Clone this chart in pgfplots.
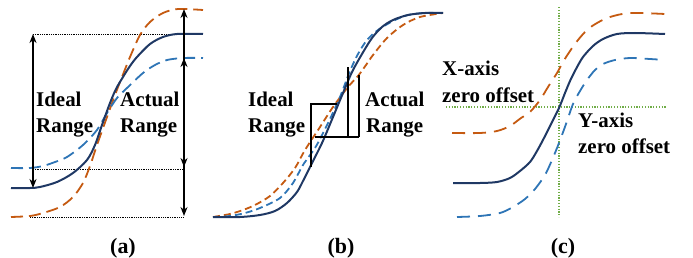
\documentclass[border=0pt]{standalone}
\usepackage{pgfplots}
\pgfplotsset{compat=1.18}
\usepackage{fontspec}
\setmainfont{Liberation Serif}
\usetikzlibrary{arrows.meta}
\definecolor{navy}{HTML}{1F3864}
\definecolor{orng}{HTML}{C55A11}
\definecolor{blu}{HTML}{2E75B6}
\definecolor{grn}{HTML}{70AD47}
\tikzset{lbl/.style={anchor=base west, inner sep=0pt, font=\fontsize{21}{26}\bfseries\selectfont},
  pcapt/.style={anchor=base, inner sep=0pt, font=\fontsize{22}{26}\bfseries\selectfont}}
\begin{document}
\begin{tikzpicture}
\begin{axis}[width=693bp,height=258bp,scale only axis,
  xmin=0,xmax=693,ymin=0,ymax=258,y dir=reverse,hide axis,clip=false]
\addplot[draw=none] coordinates {(0,0)(693,258)};
% ---------- panel (a)
\addplot[black, line width=0.8bp, densely dotted] coordinates {(33,34)(203,34)};
\addplot[black, line width=0.8bp, densely dotted] coordinates {(33,169)(184,169)};
\addplot[black, line width=0.8bp, densely dotted] coordinates {(30,217)(184,217)};
\addplot[orng, line width=1.8bp, dash pattern=on 12bp off 6bp, smooth] coordinates {(11,217)(30,216)(43,213)(60,207)(73,197)(83,183)(90,166)(97,145)(107,117)(115,95)(122,77)(130,57)(140,35)(150,22)(163,13)(178,9)(203,10)};
\addplot[blu, line width=1.8bp, dash pattern=on 12bp off 6bp, smooth] coordinates {(11,168)(30,168)(43,166)(55,162)(67,157)(83,145)(97,130)(107,113)(117,98)(127,88)(143,73)(155,65)(167,60)(183,58)(203,58)};
\addplot[navy, line width=2bp, smooth] coordinates {(11,188)(30,188)(40,187)(57,182)(73,173)(87,160)(95,145)(102,125)(110,103)(116,89)(123,77)(130,66)(137,57)(150,44)(163,37)(177,34)(203,34)};
\addplot[black, line width=2.2bp, {Stealth[length=9bp,width=7bp]}-{Stealth[length=9bp,width=7bp]}] coordinates {(33,34)(33,188)};
\addplot[black, line width=2.2bp, {Stealth[length=9bp,width=7bp]}-{Stealth[length=9bp,width=7bp]}] coordinates {(184,9)(184,216)};
\addplot[black, line width=2.2bp, {Stealth[length=9bp,width=7bp]}-{Stealth[length=9bp,width=7bp]}] coordinates {(184,58)(184,167)};
% ---------- panel (b)
\addplot[orng, line width=1.8bp, dash pattern=on 7bp off 4bp, smooth] coordinates {(213,217)(230,214)(243,210)(255,205)(270,196)(283,183)(295,168)(305,150)(320,127)(333,107)(348,87)(358,76)(366,65)(373,55)(387,38)(403,25)(420,17)(443,13)};
\addplot[blu, line width=1.8bp, dash pattern=on 7bp off 4bp, smooth] coordinates {(213,217)(230,216)(245,213)(260,208)(280,198)(293,183)(303,165)(315,148)(322,135)(330,119)(340,97)(350,71)(358,54)(367,40)(378,30)(393,21)(408,15)(425,13)(443,13)};
\addplot[navy, line width=2bp, smooth] coordinates {(213,217)(240,217)(260,215)(275,211)(287,203)(297,192)(303,181)(310,167)(322,143)(333,117)(343,93)(352,72)(362,54)(372,38)(382,27)(393,20)(408,15)(425,13)(443,13)};
\addplot[black, line width=1.3bp] coordinates {(311,167)(311,104)(337,104)};
\addplot[black, line width=1.3bp] coordinates {(315,137)(359,137)};
\addplot[black, line width=1.3bp] coordinates {(348,137)(348,67)};
\addplot[black, line width=1.3bp] coordinates {(359,137)(359,75)};
% ---------- panel (c)
\addplot[grn, line width=1.2bp, dash pattern=on 1.2bp off 1.6bp] coordinates {(559,7)(559,217)};
\addplot[grn, line width=1.2bp, dash pattern=on 1.2bp off 1.6bp] coordinates {(446,107)(666,107)};
\addplot[orng, line width=1.8bp, dash pattern=on 13bp off 8bp, smooth] coordinates {(452,133)(480,133)(497,131)(510,126)(521,118)(530,112)(540,100)(548,87)(557,73)(563,62)(570,51)(578,40)(587,30)(597,23)(610,17)(630,13)(665,14)};
\addplot[blu, line width=1.8bp, dash pattern=on 13bp off 8bp, smooth] coordinates {(457,217)(480,216)(500,213)(513,207)(525,199)(535,189)(545,175)(552,160)(559,143)(566,124)(573,104)(580,91)(587,80)(595,70)(603,64)(615,60)(630,58)(650,59)(665,60)};
\addplot[navy, line width=2bp, smooth] coordinates {(453,183)(480,183)(497,182)(510,178)(520,171)(530,162)(537,151)(544,138)(550,126)(559,108)(565,93)(570,81)(576,69)(583,57)(593,46)(603,39)(617,34)(635,33)(665,34)};
% ---------- texts
\node[lbl] at (axis cs:36,106) {Ideal};
\node[lbl] at (axis cs:36,132) {Range};
\node[lbl] at (axis cs:120,106) {Actual};
\node[lbl] at (axis cs:120,132) {Range};
\node[lbl] at (axis cs:248,106) {Ideal};
\node[lbl] at (axis cs:248,132) {Range};
\node[lbl] at (axis cs:365,106) {Actual};
\node[lbl] at (axis cs:366,132) {Range};
\node[lbl] at (axis cs:442,75) {X-axis};
\node[lbl] at (axis cs:442,102) {zero offset};
\node[lbl] at (axis cs:578,127) {Y-axis};
\node[lbl] at (axis cs:578,153) {zero offset};
\node[pcapt] at (axis cs:123,253) {(a)};
\node[pcapt] at (axis cs:341,253) {(b)};
\node[pcapt] at (axis cs:563,253) {(c)};
\end{axis}
\end{tikzpicture}
\end{document}
